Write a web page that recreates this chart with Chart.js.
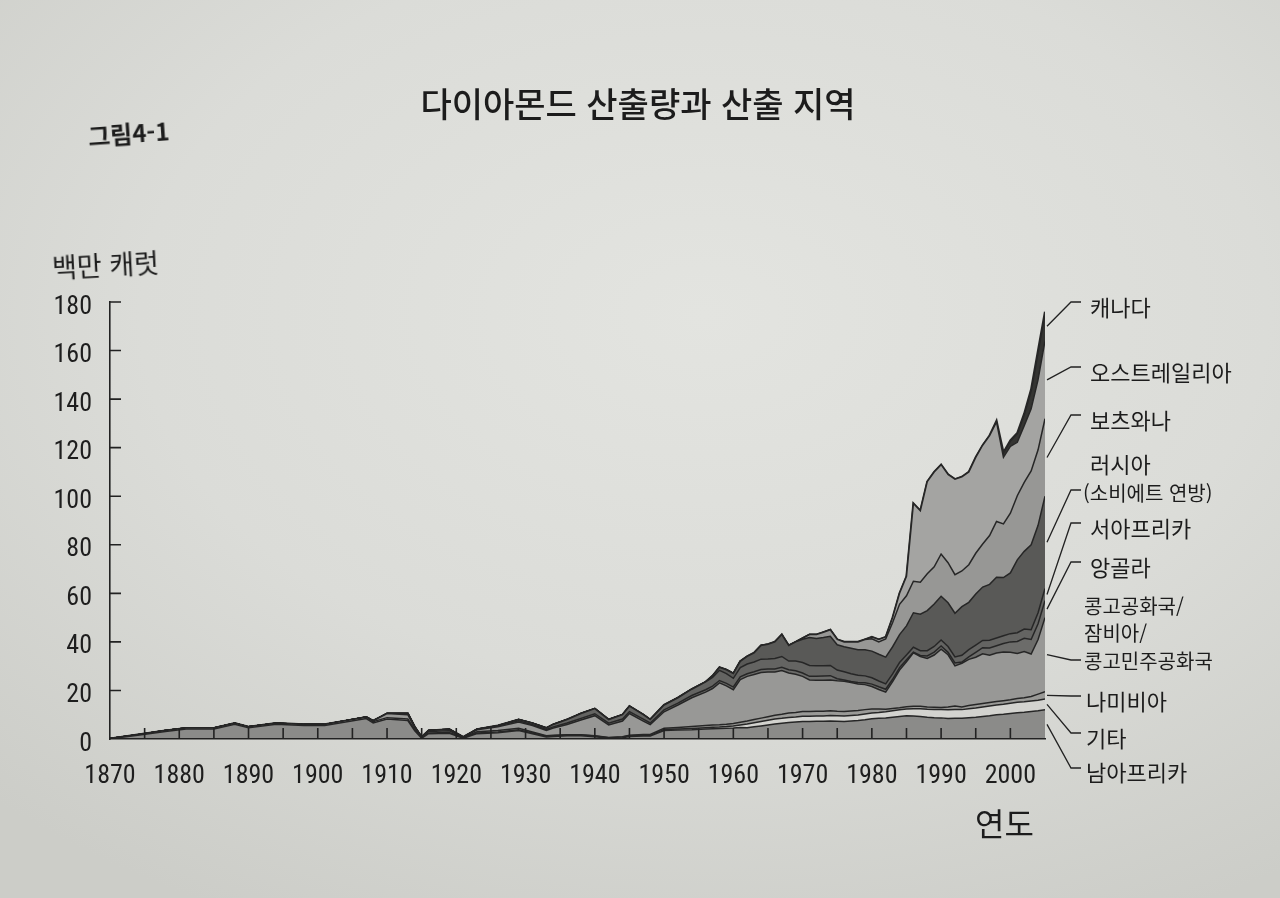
<!DOCTYPE html>
<html lang="ko">
<head>
<meta charset="utf-8">
<title>다이아몬드 산출량과 산출 지역</title>
<script src="https://cdn.jsdelivr.net/npm/chart.js@4.4.1/dist/chart.umd.min.js"></script>
<style>
  html, body { margin: 0; padding: 0; }
  body {
    width: 1280px; height: 898px; overflow: hidden; position: relative;
    background: radial-gradient(ellipse 80% 75% at 55% 35%, #e3e4e0 0%, #dbdcd8 55%, #cccdc8 100%);
    font-family: 'Noto Sans CJK KR', 'Noto Sans', sans-serif;
    color: #1c1c1c;
  }
  #diamondChart { position: absolute; left: 0; top: 0; }
  .txt { position: absolute; white-space: nowrap; line-height: 1; transform: translateY(-50%); }
  #title { left: 638px; top: 103px; font-size: 34px; font-weight: 500; transform: translate(-50%, -50%); }
  #fig { left: 88px; top: 133px; font-size: 24px; font-weight: 700; transform: translateY(-50%) rotate(-4deg); }
  #unit { left: 52px; top: 264px; font-size: 27px; transform: translateY(-50%) rotate(-3deg); }
  #xname { left: 975px; top: 822px; font-size: 32px; }
  .lbl { font-size: 22px; }
  .small { font-size: 20px; }
</style>
</head>
<body>
<canvas id="diamondChart" width="1280" height="898"></canvas>

<div class="txt" id="title">다이아몬드 산출량과 산출 지역</div>
<div class="txt" id="fig">그림4-1</div>
<div class="txt" id="unit">백만 캐럿</div>
<div class="txt" id="xname">연도</div>

<div class="txt lbl" style="left:1090px; top:306px;">캐나다</div>
<div class="txt lbl" style="left:1090px; top:371px;">오스트레일리아</div>
<div class="txt lbl" style="left:1090px; top:419px;">보츠와나</div>
<div class="txt lbl" style="left:1090px; top:463px;">러시아</div>
<div class="txt small" style="left:1083px; top:493px;">(소비에트 연방)</div>
<div class="txt lbl" style="left:1090px; top:527px;">서아프리카</div>
<div class="txt lbl" style="left:1090px; top:566px;">앙골라</div>
<div class="txt small" style="left:1084px; top:606px;">콩고공화국/</div>
<div class="txt small" style="left:1084px; top:633px;">잠비아/</div>
<div class="txt small" style="left:1084px; top:661px;">콩고민주공화국</div>
<div class="txt lbl" style="left:1086px; top:700px;">나미비아</div>
<div class="txt lbl" style="left:1086px; top:737px;">기타</div>
<div class="txt lbl" style="left:1086px; top:771px;">남아프리카</div>

<script>
// World diamond output by producing region, million carats (stacked, bottom to top)
const years = [
  1870, 1874, 1878, 1881, 1885, 1888, 1890, 1894, 1898, 1901,
  1904, 1907, 1908, 1910, 1913, 1914, 1915, 1916, 1919, 1921,
  1923, 1926, 1929, 1931, 1933, 1934, 1936, 1938, 1940, 1942,
  1944, 1945, 1947, 1948, 1950, 1952, 1954, 1956, 1957, 1958,
  1959, 1960, 1961, 1962, 1963, 1964, 1965, 1966, 1967, 1968,
  1969, 1970, 1971, 1972, 1973, 1974, 1975, 1976, 1977, 1978,
  1979, 1980, 1981, 1982, 1983, 1984, 1985, 1986, 1987, 1988,
  1989, 1990, 1991, 1992, 1993, 1994, 1995, 1996, 1997, 1998,
  1999, 2000, 2001, 2002, 2003, 2004, 2005
];

const southAfrica = [
  0.1, 1.5, 3.1, 4.1, 4.1, 6.1, 4.6, 6.1, 5.6, 5.6,
  7.0, 8.4, 6.6, 8.2, 7.6, 3.4, 0.3, 2.2, 2.4, 0.3,
  2.2, 2.6, 3.5, 2.2, 0.8, 1.0, 1.3, 1.3, 0.9, 0.3,
  0.5, 1.0, 1.2, 1.2, 3.5, 3.7, 3.8, 4.1, 4.2, 4.3,
  4.4, 4.5, 4.7, 4.6, 5.0, 5.4, 5.8, 6.2, 6.5, 6.8,
  7.0, 7.2, 7.2, 7.3, 7.3, 7.4, 7.3, 7.2, 7.4, 7.6,
  7.9, 8.3, 8.5, 8.7, 9.0, 9.3, 9.6, 9.5, 9.3, 9.0,
  8.8, 8.7, 8.4, 8.5, 8.5, 8.8, 9.0, 9.3, 9.6, 10.0,
  10.2, 10.5, 10.8, 11.0, 11.3, 11.6, 12.0
];
const others = [
  0.1, 0.3, 0.4, 0.4, 0.4, 0.4, 0.4, 0.4, 0.4, 0.4,
  0.5, 0.6, 0.5, 0.6, 0.6, 0.4, 0.2, 0.3, 0.3, 0.1,
  0.3, 0.3, 0.3, 0.3, 0.3, 0.3, 0.3, 0.3, 0.3, 0.2,
  0.3, 0.3, 0.3, 0.3, 0.4, 0.4, 0.5, 0.5, 0.6, 0.6,
  0.7, 0.9, 1.1, 1.6, 1.7, 1.8, 1.9, 2.0, 2.0, 2.1,
  2.1, 2.2, 2.2, 2.2, 2.2, 2.3, 2.3, 2.3, 2.3, 2.3,
  2.4, 2.4, 2.4, 2.5, 2.6, 2.7, 2.8, 3.0, 3.2, 3.3,
  3.4, 3.5, 3.6, 3.6, 3.6, 3.7, 3.8, 3.9, 4.0, 4.0,
  4.1, 4.2, 4.3, 4.3, 4.4, 4.4, 4.5
];
const namibia = [
  0, 0, 0, 0, 0, 0, 0, 0, 0, 0,
  0, 0, 0.4, 1.7, 1.8, 0.8, 0.1, 0.6, 0.7, 0.1,
  0.5, 0.6, 0.6, 0.4, 0.2, 0.2, 0.2, 0.2, 0.1, 0.1,
  0.1, 0.2, 0.4, 0.4, 0.5, 0.6, 0.8, 1.0, 1.0, 1.0,
  1.0, 1.0, 1.1, 1.2, 1.3, 1.4, 1.5, 1.6, 1.7, 1.8,
  1.8, 1.9, 1.9, 1.9, 1.9, 1.9, 1.8, 1.8, 1.8, 1.8,
  1.8, 1.7, 1.5, 1.1, 1.0, 0.9, 0.9, 1.0, 1.0, 0.9,
  0.9, 0.8, 1.2, 1.5, 1.1, 1.3, 1.4, 1.4, 1.4, 1.4,
  1.5, 1.5, 1.6, 1.7, 1.8, 2.5, 3.0
];
const congo = [
  0, 0, 0, 0, 0, 0, 0, 0, 0, 0,
  0, 0, 0, 0, 0.5, 0.4, 0.2, 0.4, 0.5, 0.2,
  0.8, 1.5, 2.6, 2.6, 2.2, 3.0, 4.2, 6.0, 8.3, 5.2,
  6.5, 9.0, 5.5, 4.0, 6.8, 9.3, 11.9, 13.7, 15.0, 17.2,
  15.8, 13.9, 17.6, 18.4, 18.6, 18.8, 18.4, 17.8, 18.0, 16.5,
  15.8, 14.5, 13.0, 12.8, 12.8, 12.7, 12.6, 12.5, 11.8, 11.0,
  10.3, 9.2, 8.0, 7.0, 11.0, 15.5, 18.5, 22.0, 20.5, 20.0,
  21.5, 24.0, 21.5, 16.5, 18.0, 19.0, 19.5, 20.5, 19.5, 20.0,
  20.0, 19.5, 18.5, 19.0, 17.5, 22.5, 30.5
];
const angola = [
  0, 0, 0, 0, 0, 0, 0, 0, 0, 0,
  0, 0, 0, 0, 0, 0, 0, 0, 0.1, 0.1,
  0.2, 0.3, 0.5, 0.4, 0.4, 0.5, 0.6, 0.7, 0.8, 0.7,
  0.8, 0.8, 0.8, 0.7, 0.8, 0.8, 0.9, 1.0, 1.0, 1.0,
  1.0, 1.1, 1.1, 1.1, 1.1, 1.2, 1.2, 1.2, 1.3, 1.3,
  1.4, 1.4, 1.5, 1.6, 1.8, 1.8, 0.8, 0.5, 0.4, 0.6,
  0.8, 1.0, 1.1, 1.2, 1.0, 1.0, 0.8, 0.3, 0.4, 1.0,
  1.2, 1.3, 1.0, 1.2, 0.5, 1.0, 2.0, 2.5, 3.0, 3.0,
  3.5, 4.3, 5.0, 5.5, 6.0, 6.5, 7.0
];
const westAfrica = [
  0, 0, 0, 0, 0, 0, 0, 0, 0, 0,
  0, 0, 0, 0, 0, 0, 0, 0, 0, 0,
  0, 0.2, 0.5, 0.6, 0.6, 1.0, 1.4, 2.0, 2.1, 1.5,
  1.8, 2.2, 1.8, 1.4, 2.0, 2.2, 2.6, 3.2, 3.6, 4.2,
  4.0, 3.6, 3.8, 4.0, 4.0, 4.3, 4.2, 4.4, 4.5, 3.6,
  4.0, 4.3, 4.5, 4.4, 4.2, 4.2, 3.6, 3.4, 3.2, 3.0,
  2.8, 2.6, 2.4, 2.2, 2.2, 2.1, 2.0, 2.0, 2.0, 2.2,
  2.3, 2.5, 2.4, 2.5, 2.8, 3.0, 3.0, 3.0, 3.2, 3.2,
  3.2, 3.4, 3.6, 3.8, 4.0, 4.5, 5.0
];
const russia = [
  0, 0, 0, 0, 0, 0, 0, 0, 0, 0,
  0, 0, 0, 0, 0, 0, 0, 0, 0, 0,
  0, 0, 0, 0, 0, 0, 0, 0, 0, 0,
  0, 0, 0, 0, 0, 0, 0, 0, 0.6, 1.2,
  1.6, 2.0, 2.6, 3.1, 3.8, 5.6, 6.0, 6.8, 9.0, 6.4,
  7.9, 9.6, 11.5, 11.2, 11.6, 12.0, 10.4, 10.3, 10.5, 10.5,
  10.8, 11.0, 11.0, 11.0, 11.2, 11.5, 12.0, 14.2, 15.0, 16.5,
  17.5, 18.0, 18.0, 18.0, 20.0, 19.5, 21.0, 22.0, 23.0, 25.0,
  24.0, 25.0, 30.0, 32.0, 35.0, 36.0, 38.0
];
const botswana = [
  0, 0, 0, 0, 0, 0, 0, 0, 0, 0,
  0, 0, 0, 0, 0, 0, 0, 0, 0, 0,
  0, 0, 0, 0, 0, 0, 0, 0, 0, 0,
  0, 0, 0, 0, 0, 0, 0, 0, 0, 0,
  0, 0, 0, 0, 0, 0, 0, 0, 0, 0,
  0, 0.4, 1.2, 1.6, 2.2, 2.7, 2.2, 2.0, 2.6, 3.2,
  4.2, 5.1, 5.1, 7.5, 10.0, 12.5, 12.4, 13.0, 13.2, 15.2,
  15.3, 17.4, 16.5, 15.9, 14.7, 15.5, 16.8, 17.7, 20.1, 23.0,
  22.1, 24.6, 26.4, 28.4, 30.4, 31.1, 31.9
];
const australia = [
  0, 0, 0, 0, 0, 0, 0, 0, 0, 0,
  0, 0, 0, 0, 0, 0, 0, 0, 0, 0,
  0, 0, 0, 0, 0, 0, 0, 0, 0, 0,
  0, 0, 0, 0, 0, 0, 0, 0, 0, 0,
  0, 0, 0, 0, 0, 0, 0, 0, 0, 0,
  0, 0, 0, 0, 0, 0, 0, 0, 0, 0,
  0, 0.7, 1.0, 0.8, 2.0, 4.5, 8.0, 32.0, 29.4, 37.9,
  39.1, 36.8, 36.4, 39.3, 38.8, 38.2, 39.5, 40.7, 41.2, 41.0,
  27.4, 27.5, 22.0, 23.3, 25.6, 28.9, 32.1
];
const canada = [
  0, 0, 0, 0, 0, 0, 0, 0, 0, 0,
  0, 0, 0, 0, 0, 0, 0, 0, 0, 0,
  0, 0, 0, 0, 0, 0, 0, 0, 0, 0,
  0, 0, 0, 0, 0, 0, 0, 0, 0, 0,
  0, 0, 0, 0, 0, 0, 0, 0, 0, 0,
  0, 0, 0, 0, 0, 0, 0, 0, 0, 0,
  0, 0, 0, 0, 0, 0, 0, 0, 0, 0,
  0, 0, 0, 0, 0, 0, 0, 0, 0, 0.4,
  2.0, 2.5, 3.8, 5.0, 8.0, 12.0, 12.0
];

const regionNames = ['남아프리카', '기타', '나미비아', '콩고공화국/잠비아/콩고민주공화국', '앙골라',
                     '서아프리카', '러시아(소비에트 연방)', '보츠와나', '오스트레일리아', '캐나다'];
const regionValues = [southAfrica, others, namibia, congo, angola, westAfrica, russia, botswana, australia, canada];
const regionFills = ['#8b8b89', '#d3d3cf', '#9a9a97', '#989896', '#6c6c6a',
                     '#646462', '#595957', '#979795', '#a4a4a2', '#343432'];

// where each leader line meets its label (page pixels)
const leaderEndY = [768, 733, 696, 660, 562, 523, 490, 415, 367, 302];

const tickFont = { family: "'Liberation Sans Narrow', 'Arial Narrow', 'Roboto Condensed', 'Liberation Sans', sans-serif", size: 26 };

// inward tick marks, axis lines on top, and label leaders
const chartMarks = {
  id: 'chartMarks',
  afterDatasetsDraw(chart) {
    const { ctx, scales: { x, y } } = chart;
    ctx.save();
    ctx.strokeStyle = '#222';
    ctx.lineWidth = 1.6;
    ctx.beginPath();
    for (let yr = 1875; yr <= 2000; yr += 5) {
      const px = x.getPixelForValue(yr);
      ctx.moveTo(px, y.bottom);
      ctx.lineTo(px, y.bottom - 11);
    }
    for (let v = 20; v <= 180; v += 20) {
      const py = y.getPixelForValue(v);
      ctx.moveTo(x.left, py);
      ctx.lineTo(x.left + 11, py);
    }
    ctx.stroke();

    // leaders from the middle of each band at the last year
    const last = years.length - 1;
    const xEnd = x.getPixelForValue(years[last]);
    let base = 0;
    ctx.lineWidth = 1.3;
    ctx.beginPath();
    regionValues.forEach((vals, i) => {
      const v = vals[last];
      const yMid = y.getPixelForValue(base + v / 2);
      base += v;
      ctx.moveTo(xEnd + 2, yMid);
      ctx.lineTo(1071, leaderEndY[i]);
      ctx.lineTo(1081, leaderEndY[i]);
    });
    ctx.stroke();
    ctx.restore();
  }
};

function buildDatasets() {
  return regionValues.map((vals, i) => ({
    label: regionNames[i],
    data: years.map((yr, k) => ({ x: yr, y: vals[k] })),
    backgroundColor: regionFills[i],
    borderColor: '#262626',
    borderWidth: i === regionValues.length - 1 ? 2.2 : 1.5,
    fill: i === 0 ? 'origin' : '-1',
    pointRadius: 0,
    tension: 0
  }));
}

function initChart() {
  const ctx = document.getElementById('diamondChart').getContext('2d');
  new Chart(ctx, {
    type: 'line',
    data: { datasets: buildDatasets() },
    options: {
      responsive: false,
      animation: false,
      layout: { padding: { left: 50, right: 235, top: 302, bottom: 109 } },
      plugins: {
        legend: { display: false },
        tooltip: { enabled: false }
      },
      scales: {
        x: {
          type: 'linear',
          min: 1870,
          max: 2005,
          grid: { display: false },
          border: { display: true, color: '#222', width: 1.6, z: 1 },
          afterFit: (s) => { s.height = 50; },
          ticks: {
            stepSize: 10,
            includeBounds: false,
            autoSkip: false,
            maxRotation: 0,
            padding: 14,
            color: '#1e1e1e',
            font: tickFont,
            callback: (v) => (v % 10 === 0 ? String(v) : '')
          }
        },
        y: {
          stacked: true,
          min: 0,
          max: 180,
          grid: { display: false },
          border: { display: true, color: '#222', width: 1.6, z: 1 },
          afterFit: (s) => { s.width = 60; },
          ticks: {
            stepSize: 20,
            padding: 10,
            labelOffset: 5,
            color: '#1e1e1e',
            font: tickFont
          }
        }
      }
    },
    plugins: [chartMarks]
  });
}

window.onload = () => {
  initChart();
};
</script>
</body>
</html>
